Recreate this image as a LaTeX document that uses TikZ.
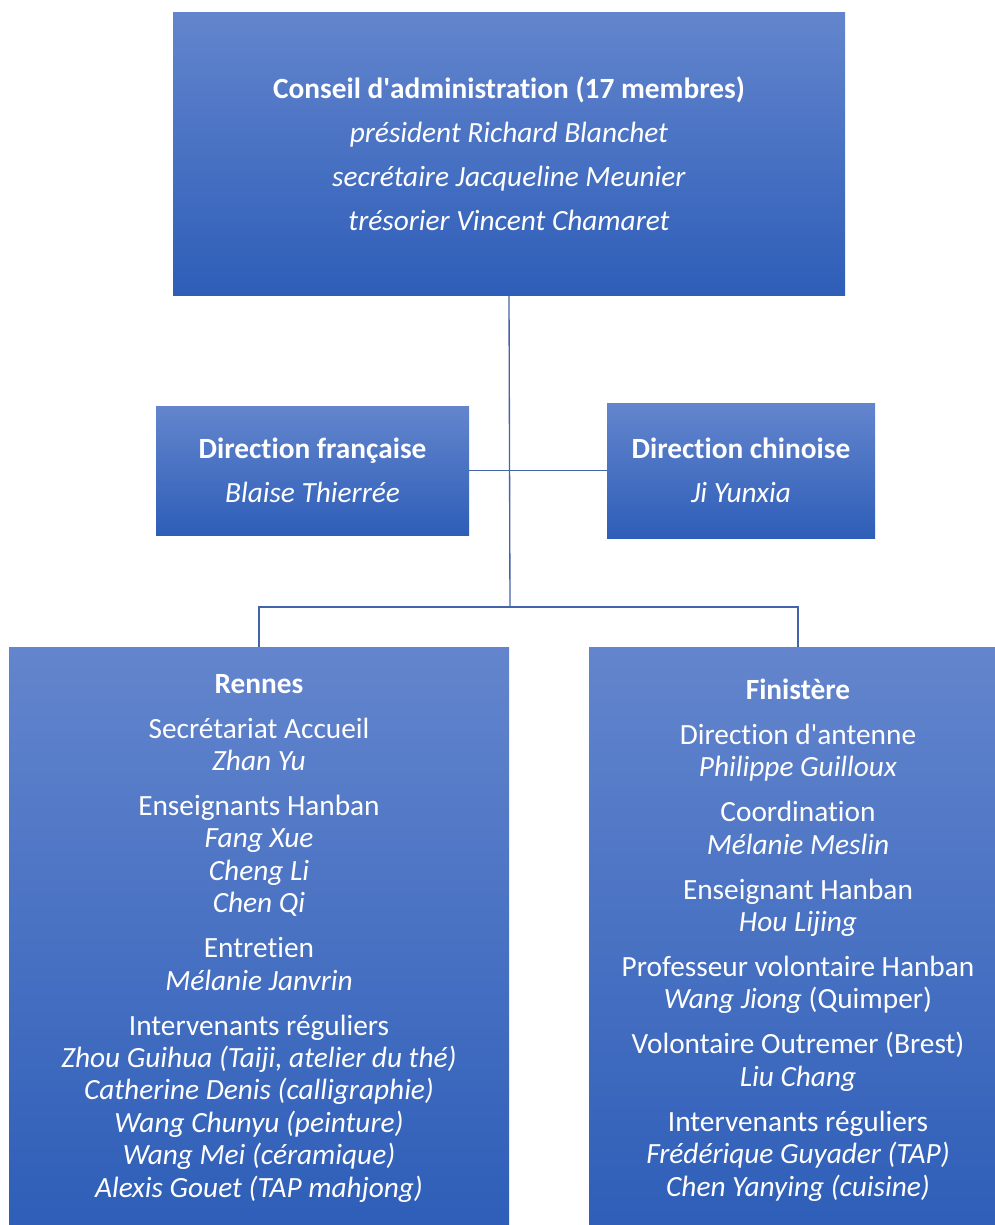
\documentclass[tikz,border=0pt]{standalone}
\usepackage{fontspec}
\setmainfont{Carlito}[Ligatures=NoCommon]
\usepackage{tikz}
\usetikzlibrary{positioning}
\definecolor{boxtop}{RGB}{99,133,205}
\definecolor{boxbot}{RGB}{46,94,184}
\definecolor{linkblue}{RGB}{68,100,168}

\begin{document}
\begin{tikzpicture}[x=0.75pt, y=-0.75pt,
  orgbox/.style={rectangle, top color=boxtop, bottom color=boxbot, text=white, align=center, inner sep=0pt},
  headbox/.style={orgbox, font=\fontsize{22}{33}\selectfont},
  sitebox/.style={orgbox, font=\fontsize{22}{24.3}\selectfont},
  link/.style={draw=linkblue, line width=1pt}]
\useasboundingbox (0,0) rectangle (995,1225);
\node [headbox, minimum width=504pt, minimum height=212.25pt] (conseil) at (509,153.5) {\textbf{Conseil d\textquotesingle administration (17 membres)}\\ \textit{président Richard Blanchet}\\ \textit{secrétaire Jacqueline Meunier}\\ \textit{trésorier Vincent Chamaret}};
\node [headbox, minimum width=234.75pt, minimum height=96.75pt] (dirfr) at (312.5,470.5) {\textbf{Direction française}\\ \textit{Blaise Thierrée}};
\node [headbox, minimum width=201pt, minimum height=101.25pt] (dircn) at (741,470.5) {\textbf{Direction chinoise}\\ \textit{Ji Yunxia}};
\coordinate (bus) at (510,607);
\node [sitebox, minimum width=375pt, minimum height=436.5pt] (rennes) at (259,938) {\textbf{Rennes}\\[9.45pt]
  Secrétariat Accueil\\ \textit{Zhan Yu}\\[9.45pt]
  Enseignants Hanban\\ \textit{Fang Xue}\\ \textit{Cheng Li}\\ \textit{Chen Qi}\\[9.45pt]
  Entretien\\ \textit{Mélanie Janvrin}\\[9.45pt]
  Intervenants réguliers\\ \textit{Zhou Guihua (Taiji, atelier du thé)}\\ \textit{Catherine Denis (calligraphie)}\\ \textit{Wang Chunyu (peinture)}\\ \textit{Wang Mei (céramique)}\\ \textit{Alexis Gouet (TAP mahjong)}};
\node [sitebox, minimum width=313.5pt, minimum height=439.5pt] (finistere) at (798,940) {\textbf{Finistère}\\[9.45pt]
  Direction d\textquotesingle antenne\\ \textit{Philippe Guilloux}\\[9.45pt]
  Coordination\\ \textit{Mélanie Meslin}\\[9.45pt]
  Enseignant Hanban\\ \textit{Hou Lijing}\\[9.45pt]
  Professeur volontaire Hanban\\ \textit{Wang Jiong} (Quimper)\\[9.45pt]
  Volontaire Outremer (Brest)\\ \textit{Liu Chang}\\[9.45pt]
  Intervenants réguliers\\ \textit{Frédérique Guyader (TAP)}\\ \textit{Chen Yanying (cuisine)}};
\draw [link] (conseil.south) -- (bus);
\draw [link] (dirfr.east) -- (dircn.west);
\draw [link] (bus) -| (rennes.north);
\draw [link] (bus) -| (finistere.north);
\end{tikzpicture}
\end{document}
